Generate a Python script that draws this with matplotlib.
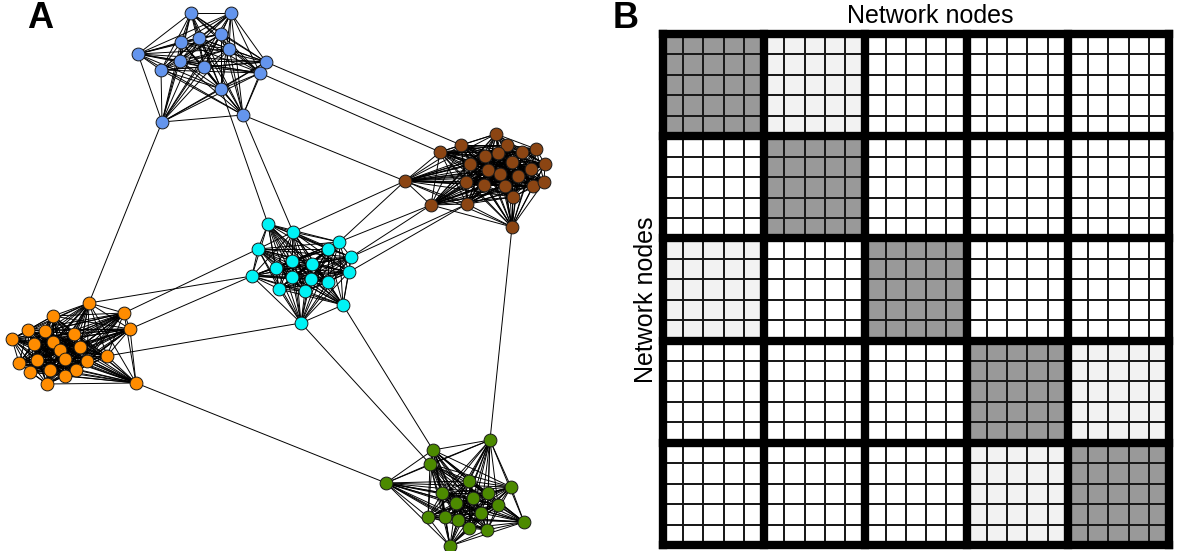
import numpy as np
import matplotlib
matplotlib.use("Agg")
import matplotlib.pyplot as plt
from matplotlib.collections import LineCollection
from matplotlib.colors import ListedColormap

plt.rcParams['font.family'] = ['Liberation Sans', 'DejaVu Sans']

# =============================================================================
# Panel A - node positions (pixel coords of the picture), one list per module
# =============================================================================
azul_x = [191, 231, 138, 181, 199, 221, 229, 180, 161, 204, 266, 260, 221, 243, 162]
azul_y = [13, 13, 54, 42, 38, 34, 49, 61, 70, 67, 62, 73, 89, 115, 122]

cafe_x = [496, 461, 440, 507, 522, 536, 485, 498, 470, 512, 545, 488, 500,
          518, 531, 405, 466, 484, 505, 533, 544, 513, 431, 467, 512]
cafe_y = [134, 145, 152, 145, 152, 149, 156, 153, 164, 162, 164, 170, 174,
          176, 169, 181, 182, 185, 186, 186, 182, 197, 205, 204, 227]

cian_x = [268, 293, 339, 258, 328, 351, 292, 312, 276, 349, 252, 292, 311,
          328, 279, 305, 343, 301]
cian_y = [224, 232, 242, 249, 249, 257, 261, 264, 268, 272, 276, 277, 279,
          282, 289, 291, 305, 323]

naranja_x = [89, 53, 124, 28, 45, 74, 130, 12, 34, 53, 60, 80, 107, 19, 37,
             65, 87, 30, 50, 76, 65, 47, 136]
naranja_y = [303, 316, 313, 330, 331, 334, 329, 339, 344, 342, 350, 347, 356,
             363, 360, 359, 361, 372, 370, 370, 376, 384, 383]

verde_x = [490, 433, 430, 386, 469, 511, 442, 488, 456, 473, 498, 481, 428,
           445, 458, 469, 487, 524, 450]
verde_y = [440, 450, 464, 483, 481, 487, 493, 493, 503, 498, 505, 513, 517,
           517, 520, 528, 530, 522, 546]

modulos = {
    'azul':    (azul_x, azul_y, '#6495ed'),
    'cafe':    (cafe_x, cafe_y, '#8b4513'),
    'cian':    (cian_x, cian_y, '#00f2f5'),
    'naranja': (naranja_x, naranja_y, '#ff8c00'),
    'verde':   (verde_x, verde_y, '#4c8a00'),
}

# enlaces entre modulos: (modulo, indice) -- (modulo, indice)
enlaces_inter = [
    (('azul', 10), ('cafe', 1)),
    (('azul', 11), ('cafe', 2)),
    (('azul', 13), ('cafe', 15)),
    (('azul', 13), ('cian', 1)),
    (('azul', 12), ('cian', 0)),
    (('azul', 14), ('naranja', 0)),
    (('cafe', 15), ('cian', 1)),
    (('cafe', 15), ('cian', 2)),
    (('cafe', 22), ('cian', 2)),
    (('cafe', 22), ('cian', 5)),
    (('cafe', 23), ('cian', 5)),
    (('cafe', 23), ('cian', 9)),
    (('cafe', 24), ('verde', 0)),
    (('cian', 16), ('verde', 1)),
    (('cian', 17), ('verde', 2)),
    (('naranja', 22), ('verde', 3)),
    (('naranja', 0), ('cian', 10)),
    (('naranja', 2), ('cian', 3)),
    (('naranja', 6), ('cian', 10)),
    (('naranja', 12), ('cian', 17)),
]

# =============================================================================
# Panel B - block structure of the adjacency matrix (0 blanco, 1 claro, 2 oscuro)
# =============================================================================
bloques = np.array([
    [2, 1, 0, 0, 0],
    [0, 2, 0, 0, 0],
    [1, 0, 2, 0, 0],
    [0, 0, 0, 2, 1],
    [0, 0, 0, 1, 2],
])
nodos_por_bloque = 5
colores_matriz = ['#ffffff', '#f2f2f2', '#999999']

W, H = 1177, 551
fig = plt.figure(figsize=(W / 100, H / 100), dpi=100)

# --- Panel A ---
axA = fig.add_axes([0, 0, 600 / W, 1])
axA.set_xlim(0, 600)
axA.set_ylim(H, 0)
axA.axis('off')

segmentos = []
for nombre, (xs, ys, _) in modulos.items():
    n = len(xs)
    for i in range(n):
        for j in range(i + 1, n):
            segmentos.append([(xs[i], ys[i]), (xs[j], ys[j])])
for (m1, i1), (m2, i2) in enlaces_inter:
    x1, y1 = modulos[m1][0][i1], modulos[m1][1][i1]
    x2, y2 = modulos[m2][0][i2], modulos[m2][1][i2]
    segmentos.append([(x1, y1), (x2, y2)])

axA.add_collection(LineCollection(segmentos, colors='black', linewidths=0.7, zorder=1))
for nombre, (xs, ys, color) in modulos.items():
    axA.scatter(xs, ys, s=85, c=color, edgecolors='#1a1a1a', linewidths=0.7, zorder=2)

fig.text(40 / W, 1 - 19 / H, 'A', fontsize=26, fontweight='bold', ha='center', va='center')
fig.text(626 / W, 1 - 19 / H, 'B', fontsize=26, fontweight='bold', ha='center', va='center')

# --- Panel B ---
izq, der, arr, aba = 663, 1169, 34, 545
axB = fig.add_axes([izq / W, 1 - aba / H, (der - izq) / W, (aba - arr) / H])
N = bloques.shape[0] * nodos_por_bloque
celdas = np.kron(bloques, np.ones((nodos_por_bloque, nodos_por_bloque)))
axB.pcolormesh(np.arange(N + 1), np.arange(N + 1), celdas,
               cmap=ListedColormap(colores_matriz), vmin=-0.5, vmax=2.5,
               edgecolors='#1a1a1a', linewidth=1.25)
for k in range(0, N + 1, nodos_por_bloque):
    axB.axvline(k, color='black', linewidth=6.0, solid_capstyle='projecting', clip_on=False)
    axB.axhline(k, color='black', linewidth=6.0, solid_capstyle='projecting', clip_on=False)
axB.set_xlim(0, N)
axB.set_ylim(N, 0)
axB.axis('off')

fig.text(930 / W, 1 - 16 / H, 'Network nodes', fontsize=18, ha='center', va='center')
fig.text(646 / W, 1 - 300 / H, 'Network nodes', fontsize=18, rotation=90,
         ha='center', va='center')

fig.savefig('out.png', dpi=100)
